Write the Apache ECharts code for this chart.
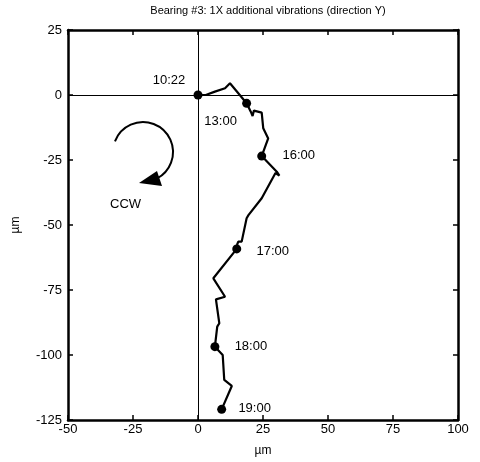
<!DOCTYPE html>
<html><head><meta charset="utf-8">
<script src="https://cdn.jsdelivr.net/npm/echarts@6/dist/echarts.min.js"></script>
<style>html,body{margin:0;padding:0;background:#fff;}#c{width:480px;height:462px;}</style>
</head><body><div id="c"></div>
<script>
// Orbit path (µm)
const pathX = [0, 3, 6.5, 10.4, 12.3, 18.7, 20.3, 21, 21.5, 24.5, 25.1, 27, 24.5, 30.3, 31.3, 29.8, 24.5, 19.4, 18.7, 16.8, 15.5, 15.1, 14.9, 5.9, 10.4, 6.9, 8.2, 7.4, 6.5, 9.5, 10.1, 13, 9.1];
const pathY = [0, 0, 1.3, 2.6, 4.5, -3.2, -6.4, -8.1, -6, -6.8, -12.8, -16.7, -23.5, -29.5, -31, -30, -39.7, -46.2, -47.4, -56.4, -56.4, -57.4, -59.2, -70.5, -77.6, -78.6, -87.8, -89.1, -96.8, -100, -109.6, -111.9, -120.9];
// Time markers
const markX = [0, 18.7, 24.5, 14.9, 6.5, 9.1];
const markY = [0, -3.2, -23.5, -59.2, -96.8, -120.9];
const markLabels = ['10:22', '13:00', '16:00', '17:00', '18:00', '19:00'];
// Axis ticks
const xTicks = [-50, -25, 0, 25, 50, 75, 100];
const yTicks = [-125, -100, -75, -50, -25, 0, 25];

const labelOffsets = [[-29, -15], [-26, 18], [37, -1], [36, 3], [36, 0], [33, -1]];
const FONT = 'Arial, "Liberation Sans", sans-serif';

const chart = echarts.init(document.getElementById('c'), null, {renderer: 'canvas'});
const axisCommon = {
  type: 'value', min: xTicks[0], max: xTicks[xTicks.length - 1], interval: 25,
  axisLine: {show: true, onZero: false, lineStyle: {color: '#000', width: 2.5}},
  axisTick: {show: true, inside: true, length: 5, lineStyle: {color: '#000', width: 1.5}},
  splitLine: {show: false}
};
const option = {
  animation: false,
  title: {text: 'Bearing #3: 1X additional vibrations (direction Y)', left: 263, top: 0, textAlign: 'center',
    textStyle: {fontFamily: FONT, fontSize: 11, fontWeight: 'normal', color: '#000'}},
  grid: {left: 68, right: 22, top: 30, bottom: 42},
  xAxis: [
    Object.assign({}, axisCommon, {position: 'bottom', name: 'µm', nameLocation: 'middle', nameGap: 25,
      nameTextStyle: {fontFamily: FONT, fontSize: 12, color: '#000'},
      axisLabel: {fontFamily: FONT, fontSize: 13, color: '#000', margin: 3}}),
    Object.assign({}, axisCommon, {position: 'top', axisLabel: {show: false}})
  ],
  yAxis: [
    Object.assign({}, axisCommon, {min: yTicks[0], max: yTicks[yTicks.length - 1], position: 'left',
      name: 'µm', nameLocation: 'middle', nameGap: 46, nameRotate: 90,
      nameTextStyle: {fontFamily: FONT, fontSize: 12, color: '#000'},
      axisLabel: {fontFamily: FONT, fontSize: 13, color: '#000', margin: 6}}),
    Object.assign({}, axisCommon, {min: yTicks[0], max: yTicks[yTicks.length - 1], position: 'right', axisLabel: {show: false}})
  ],
  series: [
    {
      type: 'line', xAxisIndex: 0, yAxisIndex: 0,
      data: pathX.map((x, i) => [x, pathY[i]]),
      showSymbol: false, symbol: 'none',
      lineStyle: {color: '#000', width: 2.2},
      markLine: {silent: true, symbol: 'none', label: {show: false},
        lineStyle: {color: '#000', width: 1, type: 'solid'},
        data: [{xAxis: 0}, {yAxis: 0}]}
    },
    {
      type: 'scatter', xAxisIndex: 0, yAxisIndex: 0,
      symbol: 'circle', symbolSize: 9,
      itemStyle: {color: '#000', opacity: 1},
      emphasis: {disabled: true},
      data: markX.map((x, i) => ({
        value: [x, markY[i]],
        label: {show: true, formatter: markLabels[i], position: 'inside', offset: labelOffsets[i],
          fontFamily: FONT, fontSize: 13, color: '#000', opacity: 1}
      }))
    }
  ],
  graphic: [
    {type: 'arc', shape: {cx: 143, cy: 152, r: 30, startAngle: 200.8 * Math.PI / 180, endAngle: 62 * Math.PI / 180, clockwise: true},
      style: {stroke: '#000', lineWidth: 2, fill: null}},
    {type: 'polygon', shape: {points: [[139, 183], [157, 171], [162, 186]]}, style: {fill: '#000'}},
    {type: 'text', left: 110, top: 198, style: {text: 'CCW', fontFamily: FONT, fontSize: 13, fill: '#000'}}
  ]
};
chart.setOption(option);
</script>
</body></html>
